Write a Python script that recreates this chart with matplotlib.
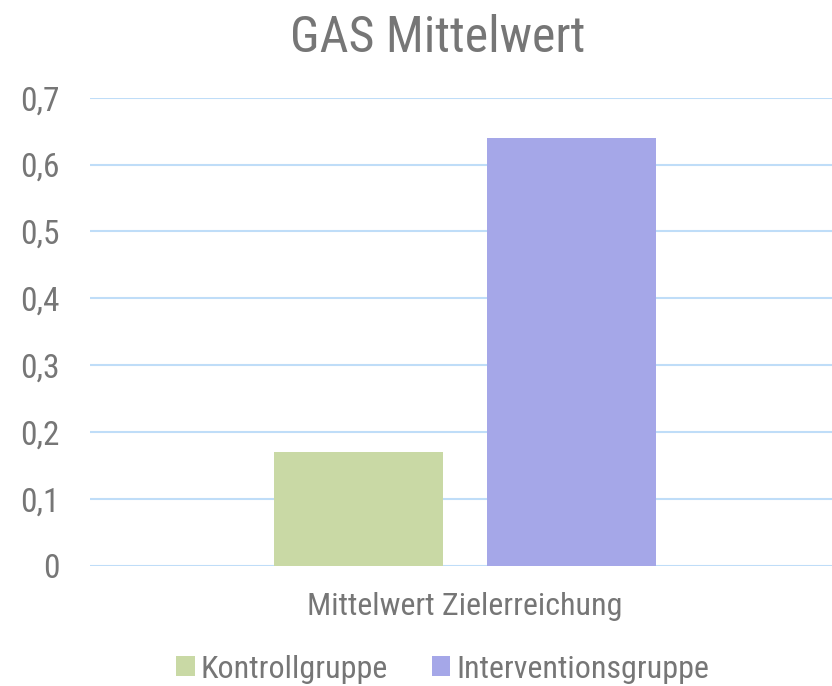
import matplotlib
matplotlib.use("Agg")
import matplotlib.pyplot as plt
from matplotlib.patches import Patch

# data
category = "Mittelwert Zielerreichung"
groups = ["Kontrollgruppe", "Interventionsgruppe"]
values = [0.17, 0.64]
yticks = [0, 0.1, 0.2, 0.3, 0.4, 0.5, 0.6, 0.7]
ytick_labels = ["0", "0,1", "0,2", "0,3", "0,4", "0,5", "0,6", "0,7"]
colors = ["#C9D9A5", "#A5A7E8"]

text_color = "#767676"
grid_color = "#BFDDF8"

plt.rcParams["font.family"] = ["Roboto Condensed", "Roboto", "DejaVu Sans"]

fig = plt.figure(figsize=(8.32, 6.86), dpi=100)
ax = fig.add_axes([90 / 832, 0.1754, 750 / 832, 0.6822])

offsets = [-0.142, 0.142]
bar_width = 0.225
for off, val, col in zip(offsets, values, colors):
    ax.bar(off, val, width=bar_width, color=col, zorder=2)

ax.set_xlim(-0.5, 0.5)
ax.set_ylim(0, 0.7)
ax.set_yticks(yticks)
ax.set_yticklabels(ytick_labels)
ax.set_xticks([0])
ax.set_xticklabels([category])
ax.tick_params(axis="y", length=0, pad=22, labelsize=24, labelcolor=text_color)
ax.tick_params(axis="x", length=0, pad=19, labelsize=23, labelcolor=text_color)
ax.grid(axis="y", color=grid_color, linewidth=1.5, zorder=0)
for s in ax.spines.values():
    s.set_visible(False)

fig.text(438 / 832, 1 - 38 / 686, "GAS Mittelwert", ha="center", va="center",
         fontsize=36, color=text_color)

handles = [Patch(facecolor=c, edgecolor="none") for c in colors]
fig.legend(handles, groups, loc="center", bbox_to_anchor=(443 / 832, 1 - 669 / 686),
           ncol=2, frameon=False, fontsize=23, labelcolor=text_color,
           handlelength=0.565, handleheight=0.565, handletextpad=0.2,
           columnspacing=1.38, borderpad=0)

fig.savefig("out.png", dpi=100)
